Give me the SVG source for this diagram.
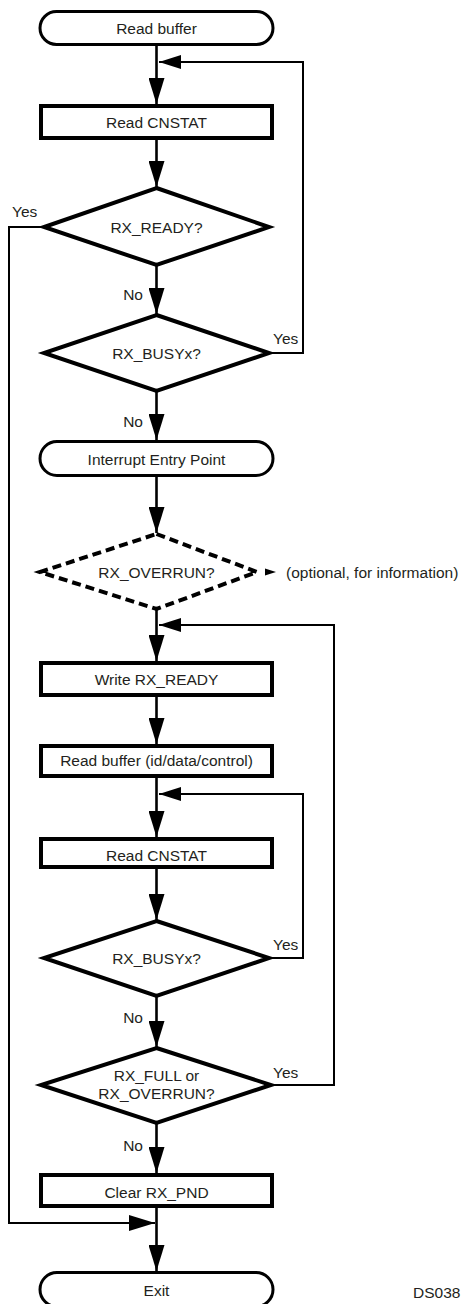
<svg xmlns="http://www.w3.org/2000/svg" width="465" height="1304" viewBox="0 0 465 1304">
<style>
  .term { fill: #fff; stroke: #000; stroke-width: 3; }
  .box { fill: #fff; stroke: #000; stroke-width: 4; }
  .dec { fill: #fff; stroke: #000; stroke-width: 4; stroke-linejoin: miter; }
  .dash { fill: #fff; stroke: #000; stroke-width: 4; stroke-dasharray: 9 5; }
  .flow { fill: none; stroke: #000; stroke-width: 2.6; }
  .loop { fill: none; stroke: #000; stroke-width: 2; }
  text { font-family: "Liberation Sans", Arial, sans-serif; font-size: 15.5px; fill: #231f20; }
  .c { text-anchor: middle; }
  .e { text-anchor: end; }
</style>
<defs>
  <marker id="aV" viewBox="0 0 26 16" refX="26" refY="8" markerWidth="26" markerHeight="16" markerUnits="userSpaceOnUse" orient="auto">
    <path d="M0,0 L26,8 L0,16 Z" fill="#000"/>
  </marker>
  <marker id="aH" viewBox="0 0 22 14" refX="22" refY="7" markerWidth="22" markerHeight="14" markerUnits="userSpaceOnUse" orient="auto">
    <path d="M0,0 L22,7 L0,14 Z" fill="#000"/>
  </marker>
</defs>

<g id="connectors">
  <line class="flow" x1="156.5" y1="46" x2="156.5" y2="104" marker-end="url(#aV)"/>
  <polyline class="loop" points="270,353 303,353 303,62 159,62" marker-end="url(#aH)"/>
  <line class="flow" x1="156.5" y1="140" x2="156.5" y2="187" marker-end="url(#aV)"/>
  <polyline class="loop" points="43,227 9,227 9,1223 155,1223" marker-end="url(#aV)"/>
  <line class="flow" x1="156.5" y1="266" x2="156.5" y2="314" marker-end="url(#aV)"/>
  <line class="flow" x1="156.5" y1="392" x2="156.5" y2="440" marker-end="url(#aV)"/>
  <line class="flow" x1="156.5" y1="477" x2="156.5" y2="533" marker-end="url(#aV)"/>
  <line class="flow" x1="156.5" y1="610" x2="156.5" y2="661" marker-end="url(#aV)"/>
  <polyline class="loop" points="272,1085 334,1085 334,625 159,625" marker-end="url(#aH)"/>
  <line class="flow" x1="156.5" y1="697" x2="156.5" y2="744" marker-end="url(#aV)"/>
  <line class="flow" x1="156.5" y1="778" x2="156.5" y2="837" marker-end="url(#aV)"/>
  <polyline class="loop" points="270,958 303,958 303,794 159,794" marker-end="url(#aH)"/>
  <line class="flow" x1="156.5" y1="869" x2="156.5" y2="920" marker-end="url(#aV)"/>
  <line class="flow" x1="156.5" y1="997" x2="156.5" y2="1047" marker-end="url(#aV)"/>
  <line class="flow" x1="156.5" y1="1124" x2="156.5" y2="1173" marker-end="url(#aV)"/>
  <line class="flow" x1="156.5" y1="1208" x2="156.5" y2="1271" marker-end="url(#aV)"/>
  <path d="M265,568.5 L276,572 L265,575.5 Z" fill="#000"/>
  <text x="12" y="217">Yes</text>
  <text class="e" x="143" y="300">No</text>
  <text x="273" y="344">Yes</text>
  <text class="e" x="143" y="427">No</text>
  <text x="273" y="950">Yes</text>
  <text class="e" x="143" y="1023">No</text>
  <text x="273" y="1078">Yes</text>
  <text class="e" x="143" y="1151">No</text>
</g>

<g id="n-read-buffer">
  <rect class="term" x="40" y="11.5" width="233" height="33" rx="16.5"/>
  <text class="c" x="156.5" y="33.5">Read buffer</text>
</g>
<g id="n-read-cnstat-1">
  <rect class="box" x="41" y="106" width="231" height="32"/>
  <text class="c" x="156.5" y="127.5">Read CNSTAT</text>
</g>
<g id="n-rx-ready">
  <polygon class="dec" points="156.5,188 269,227 156.5,265 44,227"/>
  <text class="c" x="156.5" y="232.5">RX_READY?</text>
</g>
<g id="n-rx-busy-1">
  <polygon class="dec" points="156.5,315 269,353 156.5,391 44,353"/>
  <text class="c" x="156.5" y="358.5">RX_BUSYx?</text>
</g>
<g id="n-interrupt-entry">
  <rect class="term" x="40" y="441.5" width="233" height="34" rx="17"/>
  <text class="c" x="156.5" y="464.5">Interrupt Entry Point</text>
</g>
<g id="n-rx-overrun-opt">
  <polygon class="dash" points="156.5,534 257,572 156.5,609 40,572"/>
  <text class="c" x="156.5" y="577.5">RX_OVERRUN?</text>
  <text x="286" y="577.5">(optional, for information)</text>
</g>
<g id="n-write-rx-ready">
  <rect class="box" x="41" y="663" width="231" height="32"/>
  <text class="c" x="156.5" y="684.5">Write RX_READY</text>
</g>
<g id="n-read-buffer-idc">
  <rect class="box" x="41" y="746" width="231" height="30"/>
  <text class="c" x="156.5" y="766">Read buffer (id/data/control)</text>
</g>
<g id="n-read-cnstat-2">
  <rect class="box" x="41" y="839" width="231" height="28"/>
  <text class="c" x="156.5" y="860.5">Read CNSTAT</text>
</g>
<g id="n-rx-busy-2">
  <polygon class="dec" points="156.5,921 269,958 156.5,996 44,958"/>
  <text class="c" x="156.5" y="963.5">RX_BUSYx?</text>
</g>
<g id="n-rx-full">
  <polygon class="dec" points="156.5,1048 271,1085 156.5,1123 41,1085"/>
  <text class="c" x="156.5" y="1080.5">RX_FULL or</text>
  <text class="c" x="156.5" y="1098.5">RX_OVERRUN?</text>
</g>
<g id="n-clear-rx-pnd">
  <rect class="box" x="41" y="1175" width="231" height="31"/>
  <text class="c" x="156.5" y="1197.5">Clear RX_PND</text>
</g>
<g id="n-exit">
  <rect class="term" x="40" y="1272.5" width="233" height="34" rx="17"/>
  <text class="c" x="156.5" y="1295.5">Exit</text>
</g>
<text x="413" y="1298">DS038</text>
</svg>
